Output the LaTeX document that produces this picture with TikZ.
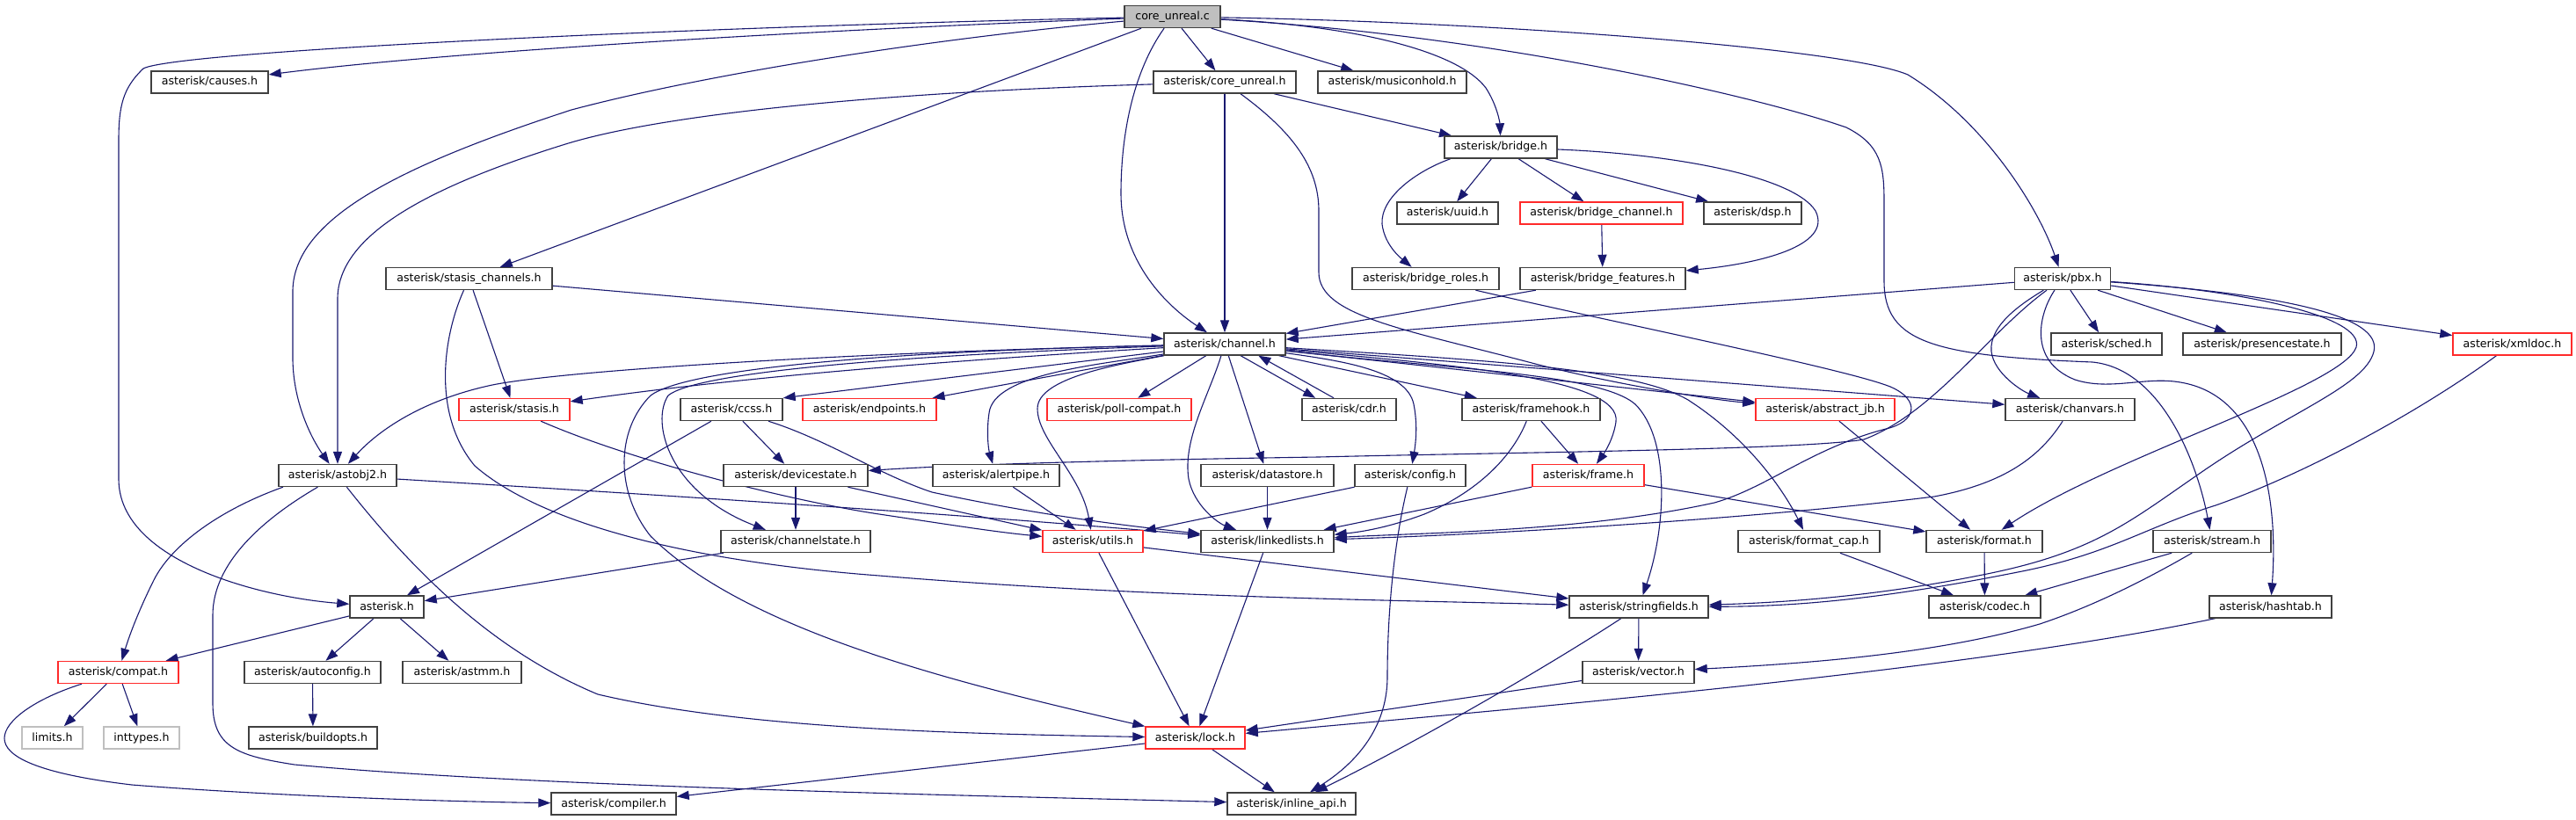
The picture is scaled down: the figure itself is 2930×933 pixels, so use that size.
\documentclass[tikz,border=0pt]{standalone}
\usepackage{fontspec}
\setmainfont{DejaVu Sans}
\usetikzlibrary{arrows.meta}
\definecolor{edgec}{HTML}{191970}
\definecolor{boxc}{HTML}{404040}
\definecolor{redc}{HTML}{FF2A2A}
\definecolor{grayc}{HTML}{BFBFBF}
\pgfdeclarelayer{bg}
\pgfsetlayers{bg,main}
\begin{document}
\begin{tikzpicture}[x=1pt,y=-1pt,
  box/.style={draw=boxc, line width=1.4pt, fill=white, minimum height=25pt, inner sep=0pt,
    text height=9.5pt, text depth=2.5pt, font=\fontsize{12.6}{15}\selectfont, text=black},
  redbox/.style={box, draw=redc},
  graybox/.style={box, draw=grayc},
  rootbox/.style={box, fill=grayc},
  dep/.style={draw=edgec, line width=1.1pt, -{Triangle[length=14pt,width=10pt]}}]
\useasboundingbox (0,0) rectangle (2930,933);
% nodes
\node[rootbox, minimum width=109pt] (cu) at (1333.5,19) {core\_unreal.c};
\node[box, minimum width=133pt] (causes) at (238.5,93.5) {asterisk/causes.h};
\node[box, minimum width=162pt] (cuh) at (1393,93.5) {asterisk/core\_unreal.h};
\node[box, minimum width=169pt] (moh) at (1583.5,93.5) {asterisk/musiconhold.h};
\node[box, minimum width=128pt] (bridge) at (1707,167.5) {asterisk/bridge.h};
\node[box, minimum width=115pt] (uuid) at (1646.5,242.5) {asterisk/uuid.h};
\node[redbox, minimum width=185pt] (bchan) at (1821.5,242.5) {asterisk/bridge\_channel.h};
\node[box, minimum width=111pt] (dsp) at (1993.5,242.5) {asterisk/dsp.h};
\node[box, minimum width=189pt] (stasisch) at (533.5,317) {asterisk/stasis\_channels.h};
\node[box, minimum width=167pt] (broles) at (1621.5,317) {asterisk/bridge\_roles.h};
\node[box, minimum width=188pt] (bfeat) at (1823,317) {asterisk/bridge\_features.h};
\node[box, minimum width=109pt] (pbx) at (2346,317) {asterisk/pbx.h};
\node[box, minimum width=138pt] (channel) at (1393,391.5) {asterisk/channel.h};
\node[box, minimum width=126pt] (sched) at (2396,391.5) {asterisk/sched.h};
\node[box, minimum width=180pt] (presence) at (2573,391.5) {asterisk/presencestate.h};
\node[redbox, minimum width=135pt] (xmldoc) at (2857.5,391.5) {asterisk/xmldoc.h};
\node[redbox, minimum width=126pt] (stasis) at (585,466) {asterisk/stasis.h};
\node[box, minimum width=116pt] (ccss) at (832,466) {asterisk/ccss.h};
\node[redbox, minimum width=152pt] (endpoints) at (989,466) {asterisk/endpoints.h};
\node[redbox, minimum width=164pt] (pollcompat) at (1273,466) {asterisk/poll-compat.h};
\node[box, minimum width=107pt] (cdr) at (1534.5,466) {asterisk/cdr.h};
\node[box, minimum width=157pt] (framehook) at (1741.5,466) {asterisk/framehook.h};
\node[redbox, minimum width=158pt] (abstractjb) at (2076,466) {asterisk/abstract\_jb.h};
\node[box, minimum width=147pt] (chanvars) at (2354.5,466) {asterisk/chanvars.h};
\node[box, minimum width=134pt] (astobj2) at (384,541) {asterisk/astobj2.h};
\node[box, minimum width=164pt] (devicestate) at (905,541) {asterisk/devicestate.h};
\node[box, minimum width=144pt] (alertpipe) at (1133,541) {asterisk/alertpipe.h};
\node[box, minimum width=151pt] (datastore) at (1441.5,541) {asterisk/datastore.h};
\node[box, minimum width=126pt] (config) at (1604,541) {asterisk/config.h};
\node[redbox, minimum width=127pt] (frame) at (1806.5,541) {asterisk/frame.h};
\node[box, minimum width=170pt] (channelstate) at (905,616) {asterisk/channelstate.h};
\node[redbox, minimum width=114pt] (utils) at (1243,616) {asterisk/utils.h};
\node[box, minimum width=151pt] (linkedlists) at (1441.5,616) {asterisk/linkedlists.h};
\node[box, minimum width=161pt] (formatcap) at (2057.5,616) {asterisk/format\_cap.h};
\node[box, minimum width=132pt] (format) at (2257,616) {asterisk/format.h};
\node[box, minimum width=134pt] (stream) at (2516,616) {asterisk/stream.h};
\node[box, minimum width=84pt] (asterisk) at (440,690.5) {asterisk.h};
\node[box, minimum width=158pt] (stringfields) at (1864,690.5) {asterisk/stringfields.h};
\node[box, minimum width=127pt] (codec) at (2257.5,690.5) {asterisk/codec.h};
\node[box, minimum width=139pt] (hashtab) at (2582.5,690.5) {asterisk/hashtab.h};
\node[redbox, minimum width=137pt] (compat) at (134.5,765) {asterisk/compat.h};
\node[box, minimum width=155pt] (autoconfig) at (355.5,765) {asterisk/autoconfig.h};
\node[box, minimum width=135pt] (astmm) at (525.5,765) {asterisk/astmm.h};
\node[box, minimum width=127pt] (vector) at (1863.5,765) {asterisk/vector.h};
\node[graybox, minimum width=69pt] (limits) at (59.5,839.5) {limits.h};
\node[graybox, minimum width=86pt] (inttypes) at (161,839.5) {inttypes.h};
\node[box, minimum width=146pt] (buildopts) at (356,839.5) {asterisk/buildopts.h};
\node[redbox, minimum width=113pt] (lock) at (1359.5,839.5) {asterisk/lock.h};
\node[box, minimum width=142pt] (compiler) at (698,914.5) {asterisk/compiler.h};
\node[box, minimum width=146pt] (inlineapi) at (1469,914.5) {asterisk/inline\_api.h};
\begin{pgfonlayer}{bg}
\fill[white] (0,0) rectangle (2930,933);
% core_unreal.c
\draw[dep] (cu) .. controls (900,35) and (500,60) .. (causes);
\draw[dep] (cu) .. controls (800,30) and (200,58) .. (163,78) .. controls (140,100) and (135,120) .. (135,160) -- (135,545) .. controls (135,640) and (300,680) .. (asterisk);
\draw[dep] (cu) .. controls (1050,45) and (800,85) .. (650,125) .. controls (450,190) and (335,250) .. (333,330) -- (333,410) .. controls (334,460) and (355,500) .. (astobj2);
\draw[dep] (cu) -- (stasisch);
\draw[dep] (cu) .. controls (1290,80) and (1275,150) .. (1275,220) .. controls (1275,300) and (1330,350) .. (channel);
\draw[dep] (cu) -- (cuh);
\draw[dep] (cu) -- (moh);
\draw[dep] (cu) .. controls (1550,30) and (1660,60) .. (1690,100) .. controls (1703,120) and (1706,140) .. (bridge);
\draw[dep] (cu) .. controls (1700,25) and (2100,55) .. (2170,85) .. controls (2260,140) and (2320,240) .. (pbx);
\draw[dep] (cu) .. controls (1700,40) and (2000,110) .. (2100,145) .. controls (2140,165) and (2143,190) .. (2143,230) -- (2143,320) .. controls (2143,390) and (2200,405) .. (2380,412) .. controls (2460,420) and (2500,530) .. (stream);
% core_unreal.h
\draw[dep] (cuh) .. controls (1000,105) and (750,130) .. (640,165) .. controls (480,215) and (384,270) .. (384,340) -- (astobj2);
\draw[dep] (cuh) -- (channel);
\draw[dep] (cuh) -- (bridge);
\draw[dep] (cuh) .. controls (1470,150) and (1500,190) .. (1500,240) -- (1500,310) .. controls (1500,360) and (1600,375) .. (1750,415) .. controls (1850,440) and (1950,455) .. (abstractjb);
% stasis_channels.h
\draw[dep] (stasisch) -- (channel);
\draw[dep] (stasisch) -- (stasis);
\draw[dep] (stasisch) .. controls (505,380) and (490,470) .. (540,530) .. controls (620,600) and (800,640) .. (1000,655) .. controls (1300,680) and (1600,683) .. (stringfields);
% channel.h
\draw[dep] (channel) .. controls (1000,400) and (650,420) .. (560,438) .. controls (480,455) and (430,490) .. (astobj2);
\draw[dep] (channel) .. controls (1000,415) and (800,435) .. (stasis);
\draw[dep] (channel) .. controls (1000,405) and (790,425) .. (760,450) .. controls (740,480) and (760,560) .. (channelstate);
\draw[dep] (channel) .. controls (1000,400) and (780,420) .. (740,450) .. controls (700,490) and (700,560) .. (740,610) .. controls (850,720) and (1100,780) .. (lock);
\draw[dep] (channel) -- (ccss.north east);
\draw[dep] (channel) -- (endpoints);
\draw[dep] (channel) .. controls (1250,415) and (1130,425) .. (1125,470) .. controls (1122,490) and (1124,510) .. (alertpipe);
\draw[dep] (channel) .. controls (1270,415) and (1180,430) .. (1180,465) .. controls (1180,500) and (1230,540) .. (utils);
\draw[dep] (channel) -- (pollcompat);
\draw[dep] (channel) .. controls (1375,450) and (1345,500) .. (1352,545) .. controls (1358,575) and (1385,595) .. (linkedlists);
\draw[dep] (channel) -- (datastore);
\draw[dep] (channel.-36) -- (cdr.161);
\draw[dep] (cdr.143) -- (channel.-19);
\draw[dep] (channel) .. controls (1520,410) and (1600,420) .. (1608,460) .. controls (1612,480) and (1611,500) .. (config);
\draw[dep] (channel) -- (framehook);
\draw[dep] (channel) .. controls (1650,415) and (1845,430) .. (1838,480) .. controls (1835,500) and (1825,515) .. (frame);
\draw[dep] (channel) .. controls (1650,420) and (1820,425) .. (1860,460) .. controls (1900,500) and (1895,600) .. (stringfields);
\draw[dep] (channel) .. controls (1700,410) and (1860,420) .. (1920,455) .. controls (1990,500) and (2030,560) .. (formatcap);
\draw[dep] (channel) -- (abstractjb);
\draw[dep] (channel) -- (chanvars);
% bridge.h
\draw[dep] (bridge) -- (uuid);
\draw[dep] (bridge) -- (bchan);
\draw[dep] (bridge) -- (dsp);
\draw[dep] (bridge.193) .. controls (1610,195) and (1570,225) .. (1572,255) .. controls (1575,280) and (1595,295) .. (broles);
\draw[dep] (bridge) .. controls (1900,175) and (2040,200) .. (2065,240) .. controls (2085,280) and (2000,300) .. (bfeat);
\draw[dep] (bchan) -- (bfeat);
\draw[dep] (bfeat) -- (channel);
\draw[dep] (broles) .. controls (1850,370) and (2100,420) .. (2150,440) .. controls (2185,455) and (2180,480) .. (2145,488) .. controls (2060,510) and (2010,555) .. (1950,572) .. controls (1800,605) and (1620,606) .. (linkedlists);
% pbx.h
\draw[dep] (pbx) -- (channel);
\draw[dep] (pbx) -- (sched);
\draw[dep] (pbx) -- (presence);
\draw[dep] (pbx) -- (xmldoc);
\draw[dep] (pbx) .. controls (2300,345) and (2262,370) .. (2265,400) .. controls (2268,425) and (2300,445) .. (chanvars);
\draw[dep] (pbx) .. controls (2320,355) and (2305,410) .. (2360,432) .. controls (2400,445) and (2440,428) .. (2480,435) .. controls (2570,450) and (2592,560) .. (hashtab);
\draw[dep] (pbx) .. controls (2260,380) and (2200,470) .. (2120,500) .. controls (2050,512) and (1700,515) .. (1500,520) .. controls (1300,523) and (1100,528) .. (devicestate);
\draw[dep] (pbx) .. controls (2550,330) and (2690,360) .. (2680,395) .. controls (2665,440) and (2400,520) .. (format);
\draw[dep] (pbx) .. controls (2600,335) and (2710,360) .. (2700,400) .. controls (2690,440) and (2600,470) .. (2500,540) .. controls (2420,595) and (2380,630) .. (2250,655) .. controls (2150,675) and (2050,685) .. (stringfields);
\draw[dep] (xmldoc) .. controls (2750,470) and (2620,540) .. (2520,575) .. controls (2440,600) and (2400,630) .. (2300,650) .. controls (2150,680) and (2050,690) .. (stringfields);
\draw[dep] (chanvars) .. controls (2320,520) and (2280,550) .. (2200,565) .. controls (2000,590) and (1700,608) .. (linkedlists);
% middle rows
\draw[dep] (abstractjb) -- (format);
\draw[dep] (frame) -- (format);
\draw[dep] (frame) -- (linkedlists);
\draw[dep] (framehook) -- (frame);
\draw[dep] (framehook) .. controls (1720,520) and (1680,560) .. (1620,585) .. controls (1580,600) and (1550,605) .. (linkedlists);
\draw[dep] (datastore) -- (linkedlists);
\draw[dep] (config) -- (utils);
\draw[dep] (config) .. controls (1585,620) and (1578,700) .. (1578,770) .. controls (1578,830) and (1540,870) .. (inlineapi);
\draw[dep] (alertpipe) -- (utils);
\draw[dep] (devicestate) -- (channelstate);
\draw[dep] (devicestate) -- (utils);
\draw[dep] (ccss) -- (devicestate);
\draw[dep] (ccss) -- (asterisk);
\draw[dep] (ccss) .. controls (940,500) and (1000,540) .. (1060,560) .. controls (1200,590) and (1300,600) .. (linkedlists);
\draw[dep] (stasis) .. controls (720,525) and (900,570) .. (1000,585) .. controls (1080,597) and (1130,605) .. (utils);
% astobj2.h
\draw[dep] (astobj2.192) .. controls (250,580) and (195,620) .. (175,660) .. controls (160,690) and (148,720) .. (compat);
\draw[dep] (astobj2) .. controls (470,650) and (560,740) .. (680,790) .. controls (850,830) and (1100,835) .. (lock);
\draw[dep] (astobj2) .. controls (700,560) and (1100,585) .. (linkedlists);
\draw[dep] (astobj2) .. controls (300,590) and (242,640) .. (242,700) -- (242,800) .. controls (242,850) and (270,860) .. (335,870) .. controls (600,895) and (1100,905) .. (inlineapi);
% asterisk.h and below
\draw[dep] (asterisk) -- (compat);
\draw[dep] (asterisk) -- (autoconfig);
\draw[dep] (asterisk) -- (astmm);
\draw[dep] (autoconfig) -- (buildopts);
\draw[dep] (compat) -- (limits);
\draw[dep] (compat) -- (inttypes);
\draw[dep] (compat) .. controls (40,795) and (5,820) .. (5,840) .. controls (5,860) and (40,880) .. (150,893) .. controls (300,905) and (500,912) .. (compiler);
\draw[dep] (channelstate) -- (asterisk);
% lower right
\draw[dep] (lock) -- (compiler);
\draw[dep] (lock) -- (inlineapi);
\draw[dep] (linkedlists) -- (lock);
\draw[dep] (utils) -- (lock);
\draw[dep] (utils) -- (stringfields);
\draw[dep] (stringfields) -- (vector);
\draw[dep] (stringfields) .. controls (1750,765) and (1600,850) .. (inlineapi);
\draw[dep] (vector) -- (lock);
\draw[dep] (hashtab) .. controls (2250,760) and (1800,800) .. (lock);
\draw[dep] (stream) -- (codec);
\draw[dep] (stream) .. controls (2440,660) and (2380,690) .. (2320,710) .. controls (2200,745) and (2050,755) .. (vector);
\draw[dep] (format) -- (codec);
\draw[dep] (formatcap) -- (codec);
\end{pgfonlayer}
\end{tikzpicture}
\end{document}
